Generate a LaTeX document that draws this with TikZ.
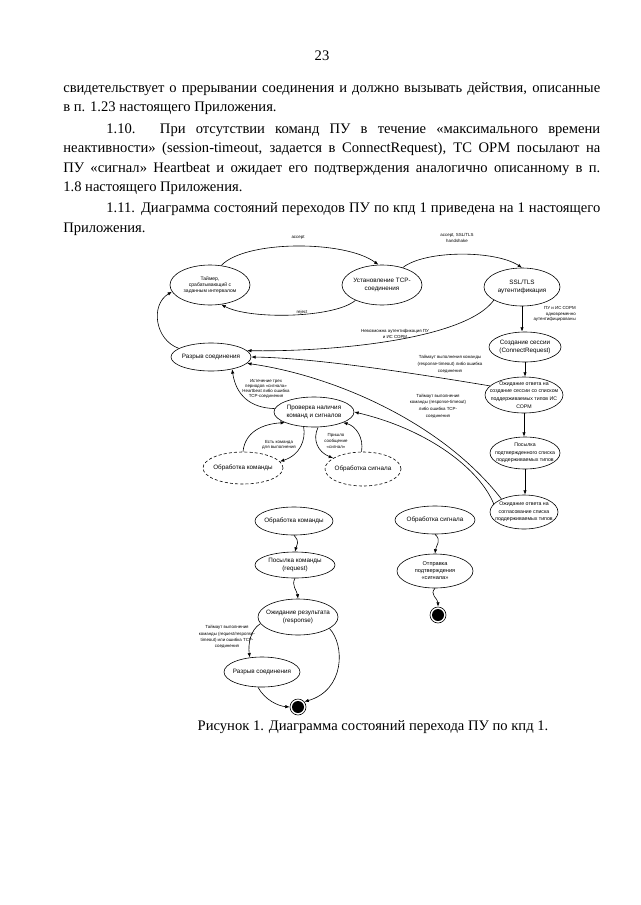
\documentclass[tikz,border=0pt]{standalone}
\usepackage{fontspec}
\setmainfont{Liberation Serif}
\newfontfamily\dsf{Liberation Sans}
\usetikzlibrary{shapes.geometric,arrows.meta}
\begin{document}
\begin{tikzpicture}[x=1pt,y=-1pt,
 line width=0.6pt,
 st/.style={ellipse,draw,inner sep=0pt},
 dst/.style={st,dash pattern=on 3pt off 2.2pt},
 tr/.style={draw,-{Latex[length=4.4pt,width=3.4pt]}},
 nl/.style={font=\dsf\fontsize{6.3}{7.6}\selectfont,align=center,inner sep=0pt},
 nls/.style={font=\dsf\fontsize{5.2}{7.6}\selectfont,align=center,inner sep=0pt},
 tl/.style={font=\dsf\fontsize{5}{5.8}\selectfont,align=center,inner sep=0pt},
 el/.style={font=\dsf\fontsize{4.4}{5.6}\selectfont,align=center,inner sep=0pt},
 elw/.style={el,font=\dsf\fontsize{4.4}{6.8}\selectfont},
 bt/.style={font=\fontsize{14.6}{18}\selectfont,anchor=base west,inner sep=0pt},
 endst/.style={circle,draw,minimum size=16pt,inner sep=0pt,path picture={\fill[black] (path picture bounding box.center) circle (6pt);}}]

\fill[white] (0,0) rectangle (640,905);
\useasboundingbox (0,0) rectangle (640,905);

% ---------- body text ----------
\node[bt,anchor=base] (pg) at (322,60) {23};
\node[bt] (l1) at (63,92) {\makebox[537pt][s]{свидетельствует о прерывании соединения и должно вызывать действия, описанные}};
\node[bt] (l2) at (63,111) {в п. 1.23 настоящего Приложения.};
\node[bt] (l3) at (106,133) {\makebox[494pt][s]{1.10. При отсутствии команд ПУ в течение «максимального времени}};
\node[bt] (l4) at (63,152) {\makebox[537pt][s]{неактивности» (session-timeout, задается в ConnectRequest), ТС ОРМ посылают на}};
\node[bt] (l5) at (63,172) {\makebox[537pt][s]{ПУ «сигнал» Heartbeat и ожидает его подтверждения аналогично описанному в п.}};
\node[bt] (l6) at (63,191) {1.8 настоящего Приложения.};
\node[bt] (l7) at (106,212) {\makebox[494pt][s]{1.11. Диаграмма состояний переходов ПУ по кпд 1 приведена на 1 настоящего}};
\node[bt] (l8) at (63,232) {Приложения.};

% ---------- states ----------
\node[st,minimum width=80pt,minimum height=40pt,label={[tl]center:{Таймер,\\срабатывающий с\\заданным интервалом}}] (timer) at (210,285) {};
\node[st,minimum width=80pt,minimum height=40pt,label={[nl]center:{Установление TCP-\\соединения}}] (tcp) at (382,285) {};
\node[st,minimum width=76pt,minimum height=38pt,label={[nl]center:{SSL/TLS\\аутентификация}}] (ssl) at (522,287) {};
\node[st,minimum width=72pt,minimum height=30pt,label={[nl]center:{Создание сессии\\(ConnectRequest)}}] (sess) at (525,347) {};
\node[st,minimum width=78pt,minimum height=36pt,label={[nls]center:{Ожидание ответа на\\создание сессии со списком\\поддерживаемых типов ИС\\СОРМ}}] (wait1) at (524,395) {};
\node[st,minimum width=70pt,minimum height=32pt,label={[nls]center:{Посылка\\подтвержденного списка\\поддерживаемых типов}}] (send) at (525,453) {};
\node[st,minimum width=68pt,minimum height=34pt,label={[nls]center:{Ожидание ответа на\\согласование списка\\поддерживаемых типов}}] (wait2) at (524,512) {};

\node[st,minimum width=80pt,minimum height=28pt,label={[nl]center:{Разрыв соединения}}] (brk) at (211,357) {};
\node[st,minimum width=80pt,minimum height=30pt,label={[nl]center:{Проверка наличия\\команд и сигналов}}] (chk) at (314,412) {};
\node[dst,minimum width=80pt,minimum height=32pt,label={[nl]center:{Обработка команды}}] (pcmd) at (243,468) {};
\node[dst,minimum width=76pt,minimum height=34pt,label={[nl]center:{Обработка сигнала}}] (psig) at (363,469) {};

\node[st,minimum width=78pt,minimum height=28pt,label={[nl]center:{Обработка команды}}] (pcmd2) at (294,521) {};
\node[st,minimum width=80pt,minimum height=26pt,label={[nl]center:{Посылка команды\\(request)}}] (sreq) at (295,565) {};
\node[st,minimum width=80pt,minimum height=36pt,label={[nl]center:{Ожидание результата\\(response)}}] (wres) at (298,617) {};
\node[st,minimum width=76pt,minimum height=30pt,label={[nl]center:{Разрыв соединения}}] (brk2) at (262,672) {};
\node[endst] (end1) at (298,707) {};

\node[st,minimum width=80pt,minimum height=28pt,label={[nl]center:{Обработка сигнала}}] (psig2) at (435,520) {};
\node[st,minimum width=76pt,minimum height=34pt,label={[tl,font=\dsf\fontsize{5.6}{7}\selectfont]center:{Отправка\\подтверждения\\«сигнала»}}] (sack) at (435,571) {};
\node[endst] (end2) at (438,615) {};

% ---------- transitions ----------
\draw[tr] (timer.60) .. controls (245,240) and (345,240) .. (tcp.100);
\draw[tr] (tcp.210) .. controls (335,318) and (250,320) .. (timer.-60);
\draw[tr] (tcp.40) .. controls (425,250) and (495,250) .. (ssl.north);
\draw[tr] (ssl.205) .. controls (465,340) and (330,352) .. (brk.10);
\draw[tr] (ssl.south) -- (ssl.south |- sess.north);
\draw[tr] (sess.south) -- (sess.south |- wait1.north);
\draw[tr] (wait1.south) -- (wait1.south |- send.north);
\draw[tr] (send.south) -- (send.south |- wait2.north);
\draw[tr] (wait1.165) .. controls (430,376) and (320,358) .. (brk.east);
\draw[tr] (wait2.150) .. controls (440,420) and (330,375) .. (brk.-10);
\draw[tr] (wait2.165) .. controls (480,470) and (430,430) .. (chk.east);
\draw[tr] (chk.175) .. controls (250,408) and (236,395) .. (brk.-30);
\draw[tr] (brk.165) .. controls (155,340) and (150,305) .. (timer.190);
\draw[tr] (pcmd.north) .. controls (245,432) and (262,424) .. (chk.200);
\draw[tr] (chk.235) .. controls (306,440) and (300,455) .. (pcmd.10);
\draw[tr] (chk.-75) .. controls (312,440) and (318,452) .. (psig.160);
\draw[tr] (psig.95) .. controls (364,438) and (356,426) .. (chk.-20);

\draw[tr] (pcmd2.south) .. controls +(6,7) and +(2,-8) .. (sreq.north);
\draw[tr] (sreq.south) .. controls +(-4,7) and +(-1,-8) .. (wres.north);
\draw[tr] (wres.190) .. controls (250,630) and (248,645) .. (brk2.130);
\draw[tr] (wres.-20) .. controls (345,645) and (345,690) .. (end1.40);
\draw[tr] (brk2.-105) .. controls (265,700) and (278,706) .. (end1.west);
\draw[tr] (psig2.south) .. controls +(7,6) and +(1,-8) .. (sack.north);
\draw[tr] (sack.south) .. controls +(-6,6) and +(0,-8) .. (end2.north);

% ---------- transition labels ----------
\node[el] (la) at (298,238) {accept};
\node[el] (lr) at (302,312) {reject};
\node[el] (lh) at (457,238) {accept, SSL/TLS\\handshake};
\node[el] (ln) at (395,334) {Невозможна аутентификация ПУ\\и ИС СОРМ};
\node[el,align=right,anchor=east] (lok) at (576,314) {ПУ и ИС СОРМ\\одновременно\\аутентифицированы};
\node[elw] (lt1) at (450,364) {Таймаут выполнения команды\\(response-timeout) либо ошибка\\соединения};
\node[elw] (lt2) at (438,406) {Таймаут выполнения\\команды (response-timeout)\\либо ошибка TCP-\\соединения};
\node[el,font=\dsf\fontsize{4.4}{5}\selectfont] (lhb) at (266,389) {Истечение трех\\периодов «сигнала»\\Heartbeat либо ошибка\\TCP-соединения};
\node[el] (lcmd) at (279,445) {Есть команда\\для выполнения};
\node[el] (lsig) at (336,441) {Пришло\\сообщение\\«сигнал»};
\node[elw,font=\dsf\fontsize{4.4}{6.2}\selectfont] (lt3) at (227,637) {Таймаут выполнения\\команды (request/response-\\timeout) или ошибка TCP-\\соединения};

% ---------- caption ----------
\node[bt,anchor=base] (cap) at (373,730) {Рисунок 1. Диаграмма состояний перехода ПУ по кпд 1.};
\end{tikzpicture}
\end{document}
